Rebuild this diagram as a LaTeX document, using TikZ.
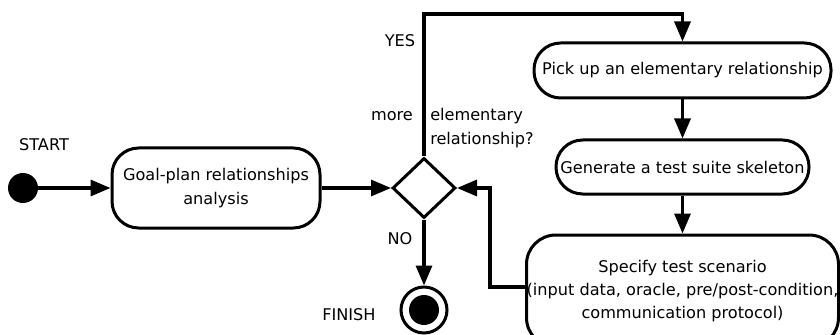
\documentclass[tikz,border=0pt]{standalone}
\usepackage{fontspec}
\setmainfont{DejaVu Sans}
\usetikzlibrary{arrows.meta,shapes.geometric}
\begin{document}
\begin{tikzpicture}[x=0.75pt,y=-0.75pt,
  every node/.style={font=\fontsize{12.1pt}{17.5pt}\selectfont},
  box/.style={draw,line width=2.25pt,rounded corners=20pt,align=center,inner sep=0pt},
  link/.style={line width=2.4pt,-{Triangle[length=15pt,width=12pt]}},
  lbl/.style={inner sep=0pt}]
\useasboundingbox (0,0) rectangle (840,335);
\clip (0,0) rectangle (840,335);
% nodes
\node[circle,fill,inner sep=0pt,minimum size=22.5pt] (start) at (23,188) {};
\node[lbl] (startl) at (44,145) {START};
\node[box,minimum width=156pt,minimum height=60pt] (goal) at (216,188) {Goal-plan relationships\\analysis};
\node[diamond,draw,line width=2.25pt,inner sep=0pt,minimum width=47.25pt,minimum height=45pt] (dia) at (424,188) {};
\node[circle,draw,line width=2.25pt,inner sep=0pt,minimum size=34.5pt] (fin) at (424,310) {};
\node[circle,fill,inner sep=0pt,minimum size=22.5pt] (finin) at (fin) {};
\node[box,minimum width=222.75pt,minimum height=41.25pt] (pick) at (682.5,70.5) {Pick up an elementary relationship};
\node[box,minimum width=189.75pt,minimum height=40.5pt] (gen) at (682.5,167) {Generate a test suite skeleton};
\node[box,rounded corners=22pt,minimum width=234pt,minimum height=84pt] (spec) at (682.5,291) {Specify test scenario\\(input data, oracle, pre/post-condition,\\communication protocol)};
% labels
\node[lbl] (yes) at (400,41) {YES};
\node[lbl] (more) at (392,116) {more};
\node[lbl,anchor=west,align=left] (elem) at (430,128) {elementary\\relationship?};
\node[lbl] (no) at (400,239) {NO};
\node[lbl] (finl) at (349,315) {FINISH};
% connectors
\coordinate (ytop) at (424,14);
\coordinate (fb) at (490,188);
\draw[link] (start) -- (goal);
\draw[link] (goal) -- (dia);
\draw[link] (dia.north) -- (ytop) -| (pick.north);
\draw[link] (pick) -- (gen);
\draw[link] (gen) -- (spec);
\draw[link] (dia) -- (fin);
\draw[link] ([yshift=3pt]spec.west) -| (fb) -- (dia.east);
\end{tikzpicture}
\end{document}
